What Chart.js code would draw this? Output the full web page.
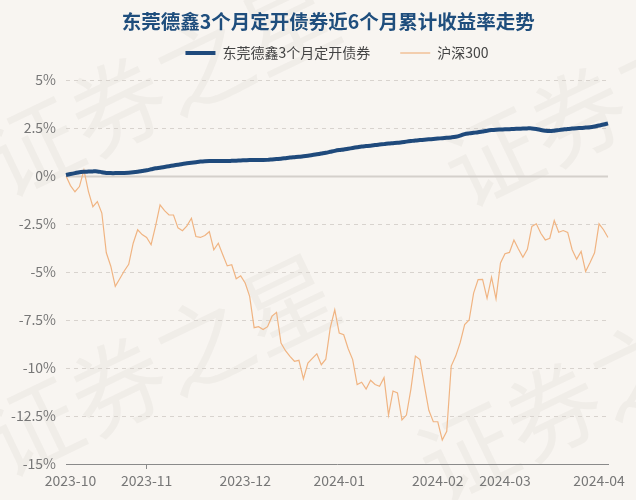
<!DOCTYPE html>
<html>
<head>
<meta charset="utf-8">
<script src="https://cdn.jsdelivr.net/npm/chart.js@4.4.1/dist/chart.umd.min.js"></script>
<style>
  html, body { margin: 0; padding: 0; background: #f8f5f1; }
  #wrap { width: 636px; height: 500px; }
</style>
</head>
<body>
<div id="wrap"><canvas id="chart" width="636" height="500"></canvas></div>
<script>
// trading days per month
var sep23 = [28];
var oct23 = [9,10,11,12,13,16,17,18,19,20,23,24,25,26,27,30,31];
var nov23 = [1,2,3,6,7,8,9,10,13,14,15,16,17,20,21,22,23,24,27,28,29,30];
var dec23 = [1,4,5,6,7,8,11,12,13,14,15,18,19,20,21,22,25,26,27,28,29];
var jan24 = [2,3,4,5,8,9,10,11,12,15,16,17,18,19,22,23,24,25,26,29,30,31];
var feb24 = [1,2,5,6,7,8,19,20,21,22,23,26,27,28,29];
var mar24 = [1,4,5,6,7,8,11,12,13,14,15,18,19,20,21,22,25,26,27,28,29];
var apr24 = [1,2,3];

var monthNames = ["2023-09","2023-10","2023-11","2023-12","2024-01","2024-02","2024-03","2024-04"];
var monthDays = [sep23, oct23, nov23, dec23, jan24, feb24, mar24, apr24];

var dates = [];
monthDays.forEach(function(days, m){
  days.forEach(function(d){
    dates.push(monthNames[m] + "-" + (d < 10 ? "0" + d : d));
  });
});

var yTicks = [5, 2.5, 0, -2.5, -5, -7.5, -10, -12.5, -15];

var fundName = "东莞德鑫3个月定开债券";
var fund = [
  0.05,0.10,0.15,0.20,0.22,0.23,0.24,0.24,0.20,0.16,
  0.15,0.15,0.16,0.16,0.17,0.19,0.22,0.26,0.30,0.35,
  0.40,0.43,0.47,0.51,0.55,0.59,0.63,0.66,0.69,0.72,
  0.75,0.77,0.78,0.78,0.78,0.78,0.78,0.79,0.80,0.81,
  0.82,0.83,0.83,0.83,0.83,0.84,0.86,0.88,0.90,0.93,
  0.96,0.98,1.00,1.03,1.06,1.09,1.13,1.17,1.21,1.26,
  1.31,1.35,1.38,1.42,1.46,1.50,1.54,1.56,1.58,1.61,
  1.64,1.66,1.69,1.71,1.73,1.76,1.79,1.82,1.85,1.87,
  1.89,1.91,1.93,1.95,1.97,1.99,2.01,2.04,2.10,2.18,
  2.22,2.25,2.28,2.32,2.36,2.39,2.41,2.42,2.43,2.44,
  2.45,2.46,2.47,2.48,2.48,2.45,2.40,2.36,2.34,2.36,
  2.39,2.42,2.45,2.47,2.49,2.50,2.52,2.54,2.58,2.63,
  2.68,2.74
];

var indexName = "沪深300";
var hs300 = [
  0,-0.5,-0.82,-0.55,0.31,-0.8,-1.6,-1.33,-1.93,-4.0,
  -4.7,-5.75,-5.35,-4.95,-4.6,-3.5,-2.8,-3.05,-3.2,-3.58,
  -2.6,-1.5,-1.8,-2.03,-2.03,-2.7,-2.85,-2.6,-2.2,-3.15,
  -3.2,-3.1,-2.9,-3.84,-3.5,-4.1,-4.68,-4.62,-5.35,-5.2,
  -5.57,-6.27,-7.9,-7.85,-8.0,-7.85,-7.3,-7.1,-8.7,-9.1,
  -9.4,-9.65,-9.6,-10.57,-9.74,-9.5,-9.26,-9.83,-9.54,-7.9,
  -6.97,-8.18,-8.27,-9.0,-9.56,-10.86,-10.74,-11.1,-10.64,-10.86,
  -10.95,-10.5,-12.45,-11.2,-11.3,-12.7,-12.45,-11.1,-9.38,-9.56,
  -10.9,-12.2,-12.8,-12.8,-13.75,-13.3,-9.9,-9.38,-8.68,-7.74,
  -7.5,-6.1,-5.4,-5.38,-6.37,-5.27,-6.4,-4.53,-4.05,-3.98,
  -3.33,-3.8,-4.23,-3.82,-2.63,-2.49,-2.98,-3.33,-3.24,-2.32,
  -2.93,-2.84,-2.94,-3.84,-4.33,-3.93,-4.97,-4.5,-4.0,-2.49,
  -2.8,-3.2
];

var font = "'Noto Sans CJK SC', 'Noto Sans', sans-serif";

function isMonthStart(i){
  return i > 0 && dates[i].slice(0, 7) !== dates[i - 1].slice(0, 7);
}

var background = {
  id: "background",
  beforeDraw: function(chart){
    var ctx = chart.ctx;
    ctx.save();
    ctx.fillStyle = "#f8f5f1";
    ctx.fillRect(0, 0, chart.width, chart.height);
    // faint watermark
    ctx.fillStyle = "rgba(190,182,172,0.12)";
    ctx.font = "95px " + font;
    ctx.textBaseline = "alphabetic";
    [[5,200],[465,210],[5,480],[440,505]].forEach(function(p){
      ctx.save();
      ctx.translate(p[0], p[1]);
      ctx.rotate(-0.45);
      ctx.fillText("证券之星", 0, 0);
      ctx.restore();
    });
    ctx.restore();
  }
};

// leave some room between legend and plot
var legendGap = {
  id: "legendGap",
  afterInit: function(chart){
    var lg = chart.legend;
    if (!lg) return;
    var fit = lg.fit;
    lg.fit = function(){
      fit.call(this);
      this.height += 10;
    };
  }
};

// dashed horizontal grid, solid zero line
var yGrid = {
  id: "yGrid",
  beforeDatasetsDraw: function(chart){
    var ys = chart.scales.y;
    var a = chart.chartArea;
    var ctx = chart.ctx;
    ctx.save();
    ys.ticks.forEach(function(t){
      var y = Math.round(ys.getPixelForValue(t.value)) + 0.5;
      ctx.beginPath();
      if (t.value === 0) {
        ctx.setLineDash([]);
        ctx.strokeStyle = "#d4d0cb";
        ctx.lineWidth = 2;
      } else if (t.value === ys.min) {
        return;
      } else {
        ctx.setLineDash([4, 4]);
        ctx.strokeStyle = "#d8d3ce";
        ctx.lineWidth = 1;
      }
      ctx.moveTo(a.left, y);
      ctx.lineTo(a.right, y);
      ctx.stroke();
    });
    ctx.restore();
  }
};

new Chart(document.getElementById("chart"), {
  type: "line",
  data: {
    labels: dates,
    datasets: [{
      label: fundName,
      data: fund,
      borderColor: "#1f4a7c",
      backgroundColor: "#1f4a7c",
      borderWidth: 4,
      pointRadius: 0,
      pointStyle: "line",
      tension: 0.3,
      fill: false
    }, {
      label: indexName,
      data: hs300,
      borderColor: "#f0b482",
      backgroundColor: "#f0b482",
      borderWidth: 1.2,
      pointRadius: 0,
      pointStyle: "line",
      tension: 0,
      fill: false
    }]
  },
  options: {
    responsive: false,
    animation: false,
    layout: { padding: { left: 0, right: 28, top: 0, bottom: 0 } },
    plugins: {
      title: {
        display: true,
        fullSize: false,
        text: "东莞德鑫3个月定开债券近6个月累计收益率走势    ",
        color: "#1f4e7d",
        font: { family: font, size: 19.5, weight: "bold" },
        padding: { top: 10, bottom: -17.4 }
      },
      legend: {
        fullSize: false,
        labels: {
          usePointStyle: true,
          pointStyleWidth: 30,
          color: "#444",
          font: { family: font, size: 14 },
          padding: 30
        }
      },
      tooltip: { enabled: false }
    },
    scales: {
      x: {
        afterFit: function(s){ s.height = 36; },
        grid: {
          drawOnChartArea: false,
          drawTicks: true,
          tickLength: 5,
          tickColor: function(c){ return isMonthStart(c.index) ? "#8a8a8a" : "rgba(0,0,0,0)"; }
        },
        border: { display: true, color: "#8a8a8a", width: 1 },
        ticks: {
          autoSkip: false,
          maxRotation: 0,
          minRotation: 0,
          padding: 3,
          color: "#777",
          font: { family: font, size: 14 },
          callback: function(v, i){ return isMonthStart(i) ? dates[i].slice(0, 7) : null; }
        }
      },
      y: {
        min: -15,
        max: 5,
        afterFit: function(s){ s.width = 66; },
        afterBuildTicks: function(s){ s.ticks = yTicks.map(function(v){ return { value: v }; }); },
        grid: { display: false, drawTicks: false },
        border: { display: false },
        ticks: {
          padding: 10,
          color: "#777",
          font: { family: font, size: 14 },
          callback: function(v){ return v + "%"; }
        }
      }
    }
  },
  plugins: [background, legendGap, yGrid]
});
</script>
</body>
</html>
